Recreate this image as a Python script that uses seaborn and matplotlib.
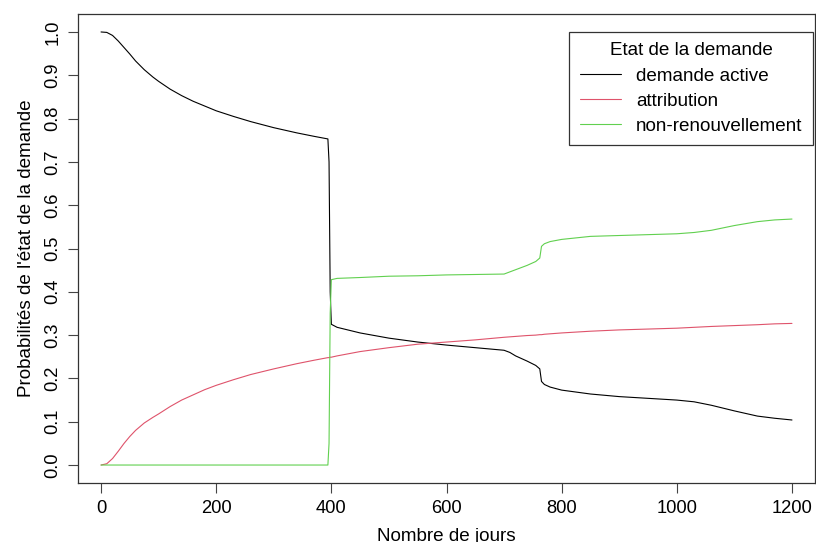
import matplotlib
matplotlib.use("Agg")
import matplotlib.pyplot as plt
import seaborn as sns
import pandas as pd

# day grid shared by the three curves
days = [0, 10, 20, 30, 40, 50, 60, 75, 90, 100, 120, 140, 160, 180, 200, 230, 260, 300,
        340, 370, 394, 396, 398, 400, 410, 450, 500, 550, 600, 650, 700, 710, 720, 740,
        755, 762, 765, 770, 780, 800, 850, 900, 950, 1000, 1030, 1060, 1100, 1140, 1170, 1200]

active = [1.0, 0.999, 0.992, 0.979, 0.964, 0.949, 0.933, 0.913, 0.896, 0.886, 0.868, 0.853,
          0.840, 0.829, 0.818, 0.805, 0.793, 0.779, 0.767, 0.759, 0.753, 0.70, 0.40, 0.325,
          0.318, 0.305, 0.293, 0.284, 0.277, 0.271, 0.265, 0.260, 0.252, 0.240, 0.230, 0.222,
          0.193, 0.186, 0.180, 0.173, 0.164, 0.158, 0.154, 0.150, 0.146, 0.138, 0.125, 0.113,
          0.108, 0.104]

attribution = [0.0, 0.003, 0.015, 0.032, 0.050, 0.066, 0.080, 0.097, 0.110, 0.118, 0.135,
               0.150, 0.162, 0.174, 0.184, 0.197, 0.209, 0.222, 0.234, 0.242, 0.248, 0.248,
               0.249, 0.249, 0.252, 0.262, 0.271, 0.279, 0.284, 0.289, 0.295, 0.296, 0.297,
               0.299, 0.300, 0.301, 0.301, 0.302, 0.303, 0.305, 0.309, 0.312, 0.314, 0.316,
               0.318, 0.320, 0.322, 0.324, 0.326, 0.327]

non_renew = [0.0] * 21 + [0.05, 0.35, 0.428, 0.431, 0.433, 0.436, 0.437, 0.439, 0.440, 0.441,
                          0.446, 0.451, 0.461, 0.470, 0.478, 0.505, 0.511, 0.516, 0.521, 0.528,
                          0.530, 0.532, 0.534, 0.537, 0.542, 0.553, 0.562, 0.566, 0.568]

labels = ["demande active", "attribution", "non-renouvellement"]
colors = ["black", "#DF536B", "#61D04F"]

df = pd.concat([
    pd.DataFrame({"jours": days, "prob": vals, "etat": lab})
    for lab, vals in zip(labels, [active, attribution, non_renew])
])

sns.set_style("ticks")
plt.rcParams["font.family"] = ["Liberation Sans", "DejaVu Sans"]
plt.rcParams.update({"text.color": "black", "axes.labelcolor": "black",
                     "xtick.labelcolor": "black", "ytick.labelcolor": "black"})
fs = 13.6

fig = plt.figure(figsize=(8.16, 5.42), dpi=100)
ax = fig.add_axes([78 / 816, 59 / 542, 737 / 816, 469 / 542])

sns.lineplot(data=df, x="jours", y="prob", hue="etat", palette=dict(zip(labels, colors)),
             hue_order=labels, estimator=None, sort=False, lw=0.8, ax=ax)

ax.set_xlim(-40, 1240)
ax.set_ylim(-0.0415, 1.0415)
ax.set_xticks(range(0, 1201, 200))
ax.set_yticks([i / 10 for i in range(11)])
ax.set_yticklabels([f"{i / 10:.1f}" for i in range(11)], rotation=90, va="center")
ax.tick_params(direction="out", length=7, width=0.8, color="#444444", labelsize=13.2,
               pad=5)
for s in ax.spines.values():
    s.set_visible(True)
    s.set_color("#333333")
    s.set_linewidth(0.9)

ax.set_xlabel("Nombre de jours", fontsize=fs, labelpad=8)
ax.set_ylabel("Probabilités de l'état de la demande", fontsize=fs, labelpad=7)

leg = ax.legend(title="Etat de la demande", loc="upper right",
                bbox_to_anchor=(0.9973, 0.9616), borderaxespad=0,
                fancybox=False, framealpha=1, edgecolor="#333333", fontsize=fs,
                title_fontsize=fs, handlelength=2.2, handletextpad=0.8,
                borderpad=0.55, labelspacing=0.42)
leg.get_frame().set_linewidth(0.9)
for h in leg.get_lines():
    h.set_linewidth(0.8)
leg.get_title().set_color("black")

fig.savefig("out.png", dpi=100)
